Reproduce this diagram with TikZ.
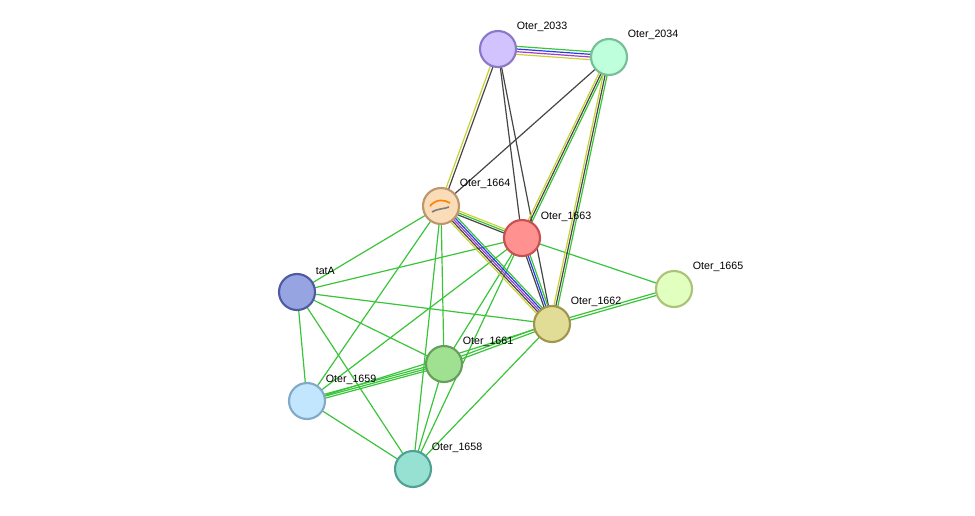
\documentclass[tikz,border=0pt]{standalone}
\usepackage{fontspec}
\setmainfont{Liberation Sans}
\usetikzlibrary{calc}
\tikzset{every picture/.style={line width=0.75pt}}
\tikzset{
  prot/.style={circle, minimum size=27pt, inner sep=0pt, line width=1.6pt},
  lbl/.style={font=\fontsize{8}{9}\selectfont, anchor=south west, inner sep=1pt},
  ev/.style={line width=0.9pt}
}
\definecolor{cgreen}{RGB}{58,196,58}
\definecolor{cdark}{RGB}{70,70,70}
\definecolor{cyel}{RGB}{200,210,50}
\definecolor{cblue}{RGB}{40,60,230}
\definecolor{cpurp}{RGB}{160,60,200}
% parallel evidence line between two points
\newcommand{\evline}[4]{\draw[ev,#4] ($(#1)!#3!90:(#2)$) -- ($(#2)!#3!-90:(#1)$);}

\begin{document}
\begin{tikzpicture}[x=0.75pt,y=0.75pt,yscale=-1,xscale=1]
\useasboundingbox (0,0) rectangle (975,515);

% positions
\coordinate (p2033) at (498,49);
\coordinate (p2034) at (609,57);
\coordinate (p1664) at (441,206);
\coordinate (p1663) at (522,238);
\coordinate (ptat) at (297,292);
\coordinate (p1665) at (674,289);
\coordinate (p1662) at (552,324);
\coordinate (p1661) at (444,364);
\coordinate (p1659) at (307,401);
\coordinate (p1658) at (413,469);

% single green edges
\foreach \a/\b in {ptat/p1664, ptat/p1663, ptat/p1662, ptat/p1661, ptat/p1659, ptat/p1658,
  p1664/p1661, p1664/p1659, p1664/p1658, p1663/p1661, p1663/p1659, p1663/p1658,
  p1663/p1665, p1662/p1658, p1661/p1658, p1659/p1658}
  \draw[ev, cgreen] (\a) -- (\b);

% multi evidence edges
\evline{p2033}{p2034}{-3pt}{cgreen}
\evline{p2033}{p2034}{-1pt}{cblue}
\evline{p2033}{p2034}{1pt}{cpurp}
\evline{p2033}{p2034}{3pt}{cyel}
\evline{p2033}{p1664}{-1pt}{cdark}
\evline{p2033}{p1664}{1pt}{cyel}
\draw[ev, cdark] (p2033) -- (p1663);
\draw[ev, cdark] (p2033) -- (p1662);
\draw[ev, cdark] (p2034) -- (p1664);
\evline{p2034}{p1663}{-1.5pt}{cgreen}
\evline{p2034}{p1663}{0pt}{cdark}
\evline{p2034}{p1663}{1.5pt}{cyel}
\evline{p2034}{p1662}{-1.5pt}{cgreen}
\evline{p2034}{p1662}{0pt}{cdark}
\evline{p2034}{p1662}{1.5pt}{cyel}
\evline{p1664}{p1663}{-1.5pt}{cyel}
\evline{p1664}{p1663}{0pt}{cgreen}
\evline{p1664}{p1663}{1.5pt}{cdark}
\evline{p1664}{p1662}{-3pt}{cgreen}
\evline{p1664}{p1662}{-1.5pt}{cblue}
\evline{p1664}{p1662}{0pt}{cpurp}
\evline{p1664}{p1662}{1.5pt}{cdark}
\evline{p1664}{p1662}{3pt}{cyel}
\evline{p1663}{p1662}{-1.5pt}{cgreen}
\evline{p1663}{p1662}{0pt}{cblue}
\evline{p1663}{p1662}{1.5pt}{cdark}
\evline{p1662}{p1665}{-1pt}{cgreen}
\evline{p1662}{p1665}{1pt}{cgreen}
\evline{p1662}{p1661}{-1pt}{cgreen}
\evline{p1662}{p1661}{1pt}{cgreen}
\evline{p1661}{p1659}{-1.5pt}{cgreen}
\evline{p1661}{p1659}{0pt}{cgreen}
\evline{p1661}{p1659}{1.5pt}{cgreen}
\draw[ev, cgreen] (p1662) -- (p1659);

% proteins
\node[prot, draw={rgb,255:red,140;green,120;blue,200}, fill={rgb,255:red,210;green,195;blue,255}] (n2033) at (p2033) {};
\node[prot, draw={rgb,255:red,120;green,190;blue,150}, fill={rgb,255:red,190;green,255;blue,220}] (n2034) at (p2034) {};
\node[prot, draw={rgb,255:red,190;green,150;blue,110}, fill={rgb,255:red,250;green,220;blue,185}] (n1664) at (p1664) {};
\node[prot, draw={rgb,255:red,200;green,80;blue,80}, fill={rgb,255:red,255;green,145;blue,145}] (n1663) at (p1663) {};
\node[prot, draw={rgb,255:red,80;green,90;blue,160}, fill={rgb,255:red,150;green,165;blue,225}] (ntat) at (ptat) {};
\node[prot, draw={rgb,255:red,170;green,195;blue,120}, fill={rgb,255:red,225;green,255;blue,190}] (n1665) at (p1665) {};
\node[prot, draw={rgb,255:red,160;green,150;blue,80}, fill={rgb,255:red,225;green,220;blue,150}] (n1662) at (p1662) {};
\node[prot, draw={rgb,255:red,100;green,160;blue,90}, fill={rgb,255:red,160;green,225;blue,145}] (n1661) at (p1661) {};
\node[prot, draw={rgb,255:red,130;green,170;blue,200}, fill={rgb,255:red,195;green,230;blue,255}] (n1659) at (p1659) {};
\node[prot, draw={rgb,255:red,80;green,160;blue,150}, fill={rgb,255:red,150;green,225;blue,210}] (n1658) at (p1658) {};

% small structure glyph
\draw[line width=1.2pt, orange] ($(p1664)+(-11,0)$) .. controls ($(p1664)+(-4,-8)$) and ($(p1664)+(4,-6)$) .. ($(p1664)+(9,-3)$);
\draw[line width=1.2pt, cdark!70] ($(p1664)+(-9,6)$) .. controls ($(p1664)+(-2,2)$) and ($(p1664)+(4,3)$) .. ($(p1664)+(8,1)$);

% labels
\node[lbl] at (515,33) {Oter\_2033};
\node[lbl] at (626,41) {Oter\_2034};
\node[lbl] at (458,190) {Oter\_1664};
\node[lbl] at (539,223) {Oter\_1663};
\node[lbl] at (314,276) {tatA};
\node[lbl] at (691,273) {Oter\_1665};
\node[lbl] at (569,308) {Oter\_1662};
\node[lbl] at (461,348) {Oter\_1661};
\node[lbl] at (324,386) {Oter\_1659};
\node[lbl] at (430,454) {Oter\_1658};
\end{tikzpicture}
\end{document}
